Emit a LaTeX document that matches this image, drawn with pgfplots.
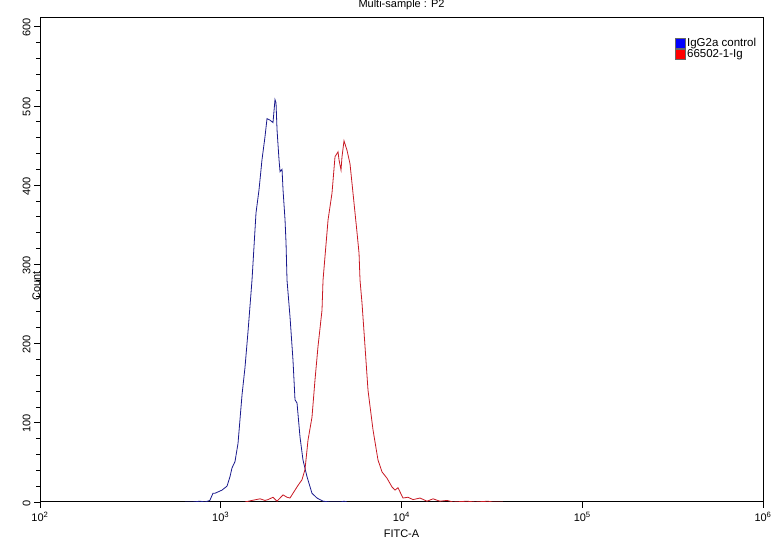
\documentclass[border=0pt]{standalone}
\usepackage{fontspec}
\setmainfont{Liberation Sans}
\usepackage{pgfplots}
\pgfplotsset{compat=1.18}

\definecolor{blueline}{RGB}{25,25,140}
\definecolor{redline}{RGB}{200,25,35}
\definecolor{legblue}{RGB}{0,0,255}
\definecolor{legred}{RGB}{255,0,0}

\begin{document}
\begin{tikzpicture}
% fix the page to the reference's frame: axis box at (0,0)-(723,484)
\path[use as bounding box] (-40pt,-38pt) rectangle (739pt,502pt);
\begin{axis}[
    scale only axis,
    width=723pt, height=484pt,
    xmode=log, log basis x=10,
    xmin=100, xmax=1000000,
    ymin=0, ymax=611,
    ytick={0,100,200,300,400,500,600},
    minor y tick num=4,
    xtick={100,1000,10000,100000,1000000},
    xticklabel={10\textsuperscript{\pgfmathparse{int(round(\tick))}\pgfmathresult}},
    /pgf/number format/assume math mode=true,
    tick align=outside,
    xtick pos=left, ytick pos=left,
    major tick length=6pt, minor tick length=4pt,
    every tick/.style={black, line width=0.8pt},
    axis line style={line width=1pt},
    font=\fontsize{11}{13}\selectfont,
    tick label style={font=\fontsize{11}{13}\selectfont},
    yticklabel style={rotate=90, anchor=south, xshift=-1pt},
    xticklabel style={anchor=north, yshift=-1pt},
    title={Multi-sample : P2},
    title style={at={(rel axis cs:0.5,1)}, anchor=base, yshift=4pt},
    xlabel={FITC-A},
    xlabel style={at={(rel axis cs:0.5,0)}, anchor=base, yshift=-36pt},
    ylabel={Count},
    ylabel style={at={(rel axis cs:0,0.5)}, anchor=base, rotate=0, xshift=-26pt},
    legend style={at={(rel axis cs:0.995,0.965)}, anchor=north east,
        draw=none, fill=none, font=\fontsize{11.5}{13}\selectfont,
        row sep=-2pt, inner sep=1pt},
    legend cell align=left,
]
\addplot[color=blueline, line width=0.8pt,
    legend image code/.code={\draw[fill=legblue, draw=black!60, line width=0.6pt] (0pt,-5pt) rectangle (10pt,5pt);}]
coordinates {
    (634,0) (700,0) (768,1) (818,0) (870,2) (906,11) (929,11) (1016,15)
    (1083,20) (1125,32) (1154,43) (1199,51) (1246,74) (1311,135) (1362,170)
    (1415,215) (1489,280) (1567,365) (1628,394) (1691,432) (1757,461)
    (1803,484) (1873,482) (1946,479) (1996,508) (2022,504) (2048,470)
    (2101,432) (2128,417) (2183,420) (2211,394) (2268,356) (2297,327)
    (2326,280) (2416,234) (2510,179) (2575,129) (2642,125) (2745,82)
    (2851,53) (3000,32) (3197,11) (3408,5) (3680,1) (4022,0) (4600,0)
    (4807,1) (5000,0)
};
\addlegendentry{IgG2a control}

\addplot[color=redline, line width=0.8pt,
    legend image code/.code={\draw[fill=legred, draw=black!60, line width=0.6pt] (0pt,-5pt) rectangle (10pt,5pt);}]
coordinates {
    (1362,0) (1489,2) (1649,4) (1757,2) (1825,3) (1946,6) (2048,1)
    (2211,9) (2326,6) (2416,5) (2575,15) (2676,21) (2814,28) (2925,41)
    (3039,78) (3197,107) (3322,154) (3451,196) (3632,242) (3680,280)
    (3923,356) (4126,390) (4287,436) (4454,442) (4511,432) (4628,419)
    (4687,436) (4807,456) (4994,444) (5189,427) (5391,390) (5675,340)
    (5822,314) (5896,280) (6047,251) (6284,196) (6527,141) (6957,91)
    (7413,53) (7802,38) (8313,30) (8859,19) (9204,15) (9563,18)
    (10192,5) (10863,6) (11576,3) (12660,5) (13838,1) (14941,4)
    (16331,1) (17852,2) (19275,0) (23031,1) (25505,0) (30109,1)
    (32000,0) (36428,0)
};
\addlegendentry{66502-1-Ig}
\end{axis}
\end{tikzpicture}
\end{document}
